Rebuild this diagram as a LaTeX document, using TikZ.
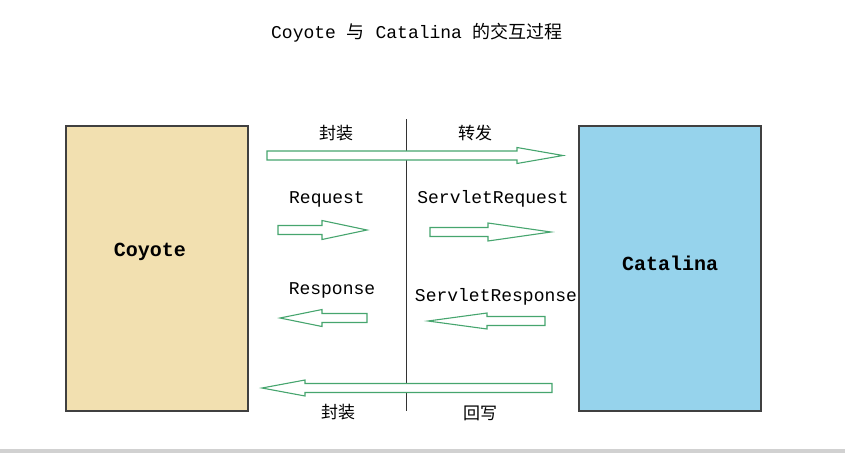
\documentclass[tikz,border=0pt]{standalone}
\usepackage{fontspec}
\setmonofont{Liberation Mono}
\newfontfamily\cjk{Noto Sans CJK SC}
\definecolor{coyotefill}{RGB}{242,224,176}
\definecolor{catalinafill}{RGB}{150,211,236}
\definecolor{arrowgreen}{RGB}{70,165,110}
\tikzset{
    box/.style = {draw=black!75, line width=1.1pt, minimum width=182pt, minimum height=285pt, inner sep=0pt},
    boxname/.style = {font=\ttfamily\bfseries\fontsize{20}{22}\selectfont},
    monolabel/.style = {font=\ttfamily\fontsize{18}{20}\selectfont, inner sep=0pt},
    cnlabel/.style = {font=\cjk\fontsize{17}{19}\selectfont, inner sep=0pt},
    blockline/.style = {draw=arrowgreen, fill=white, line width=1.1pt, line join=miter}
}
% tail x, tip x, y, head base x, shaft half, head half
\newcommand{\blockarr}[6]{
    \draw[blockline] (#1,{#3-#5}) -- (#4,{#3-#5}) -- (#4,{#3-#6}) -- (#2,#3)
        -- (#4,{#3+#6}) -- (#4,{#3+#5}) -- (#1,{#3+#5}) -- cycle;
}
\begin{document}
\begin{tikzpicture}[x=1pt, y=-1pt]
    \useasboundingbox (0,0) rectangle (845,453);
    \fill[black!18] (0,449) rectangle (845,453);

    \node[monolabel] (title) at (417,33) {Coyote {\cjk 与} Catalina {\cjk 的交互过程}};

    \node[box, fill=coyotefill] (coyote) at (157,268.5) {};
    \node[box, fill=catalinafill] (catalina) at (670,268.5) {};
    \node[boxname] (coyotename) at (150,252) {Coyote};
    \node[boxname] (catalinaname) at (670,263) {Catalina};

    \draw[black!80, line width=1pt] (406,119) -- (406,411);

    \blockarr{267}{563}{155.5}{517}{4.5}{8}
    \blockarr{278}{367}{230}{322}{4.5}{9.5}
    \blockarr{430}{551}{232}{488}{4.5}{9}
    \blockarr{367}{280}{318}{322}{4.5}{8.5}
    \blockarr{545}{428}{321}{487}{4.5}{8}
    \blockarr{552}{262}{388}{305}{4.5}{8}

    \node[cnlabel] (wrapin) at (336,133) {封装};
    \node[cnlabel] (forward) at (475,133) {转发};
    \node[monolabel] (request) at (327,199) {Request};
    \node[monolabel] (srequest) at (493,199) {ServletRequest};
    \node[monolabel] (response) at (332,290) {Response};
    \node[monolabel] (sresponse) at (496,297) {ServletResponse};
    \node[cnlabel] (wrapout) at (338,412) {封装};
    \node[cnlabel] (writeback) at (480,413) {回写};
\end{tikzpicture}
\end{document}
